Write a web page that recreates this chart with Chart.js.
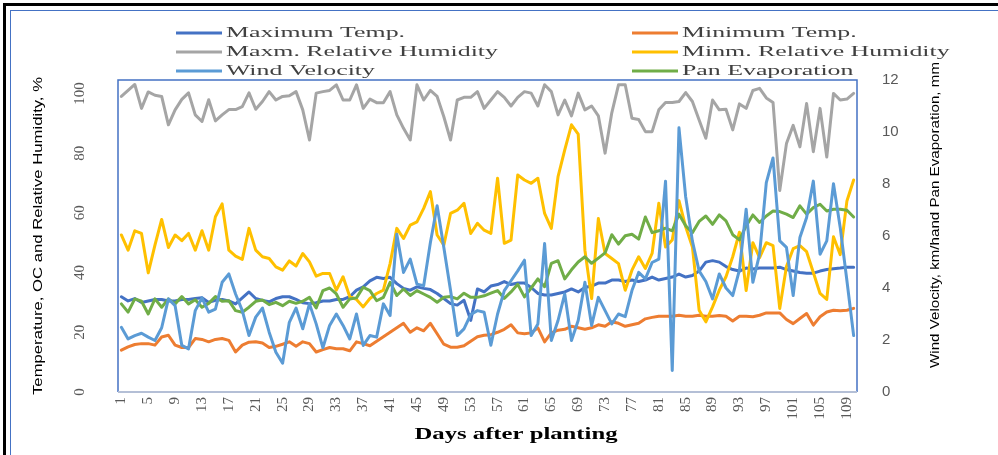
<!DOCTYPE html>
<html>
<head>
<meta charset="utf-8">
<title>Weather parameters during crop period</title>
<script src="https://cdn.jsdelivr.net/npm/chart.js@4.4.1/dist/chart.umd.min.js"></script>
<style>
  html, body { margin: 0; padding: 0; background: #fff; }
  #wrap { position: relative; width: 998px; height: 455px; }
</style>
</head>
<body>
<div id="wrap"><canvas id="myChart" width="998" height="455"></canvas></div>
<script>
// days after planting (categories)
var days = [1, 2, 3, 4, 5, 6, 7, 8, 9, 10, 11, 12, 13, 14, 15, 16, 17, 18, 19, 20,
  21, 22, 23, 24, 25, 26, 27, 28, 29, 30, 31, 32, 33, 34, 35, 36, 37, 38, 39, 40,
  41, 42, 43, 44, 45, 46, 47, 48, 49, 50, 51, 52, 53, 54, 55, 56, 57, 58, 59, 60,
  61, 62, 63, 64, 65, 66, 67, 68, 69, 70, 71, 72, 73, 74, 75, 76, 77, 78, 79, 80,
  81, 82, 83, 84, 85, 86, 87, 88, 89, 90, 91, 92, 93, 94, 95, 96, 97, 98, 99, 100,
  101, 102, 103, 104, 105, 106, 107, 108, 109, 110]
// days that get a tick label
var tickDays = [1, 5, 9, 13, 17, 21, 25, 29, 33, 37, 41, 45, 49, 53, 57, 61, 65, 69, 73, 77, 81, 85, 89, 93, 97, 101, 105, 109]
var leftTicks = [0, 20, 40, 60, 80, 100]

// left axis series (temperature, humidity)
var maxTemp = [31.9, 30.5, 31.3, 30.0, 30.5, 31.0, 31.0, 30.5, 30.5, 31.0,
  31.0, 31.3, 31.6, 30.0, 30.7, 31.0, 30.5, 29.5, 31.5, 33.5,
  31.3, 30.7, 30.2, 31.3, 31.9, 31.9, 31.0, 29.9, 29.6, 29.9,
  30.5, 30.5, 31.0, 31.0, 31.9, 34.1, 35.2, 37.2, 38.4, 38.0,
  38.4, 36.3, 34.7, 34.1, 35.2, 34.7, 34.3, 33.0, 31.3, 29.6,
  29.1, 30.7, 24.0, 34.5, 33.5, 35.5, 36.0, 37.0, 36.0, 36.5,
  36.5, 35.0, 33.0, 32.5, 32.5, 33.0, 33.5, 34.5, 33.5, 35.0,
  35.5, 36.5, 36.5, 37.5, 37.5, 37.0, 37.5, 37.0, 37.5, 38.5,
  37.5, 38.0, 38.5, 39.5, 38.5, 39.0, 40.5, 43.5, 44.0, 43.5,
  42.0, 41.0, 40.5, 41.5, 41.2, 41.5, 41.5, 41.5, 41.8, 41.0,
  40.5, 40.0, 39.8, 39.8, 40.5, 41.0, 41.3, 41.5, 41.8, 41.8]
var minTemp = [14.0, 15.1, 15.9, 16.2, 16.2, 15.7, 18.4, 19.0, 15.7, 14.9,
  14.9, 17.9, 17.6, 16.8, 17.6, 17.9, 17.3, 13.4, 15.7, 16.7,
  16.8, 16.4, 14.9, 15.3, 16.0, 16.8, 15.3, 16.8, 16.2, 13.4,
  14.2, 14.9, 14.5, 14.5, 13.8, 16.8, 16.2, 15.5, 17.0, 18.5,
  20.0, 21.5, 23.0, 20.0, 21.5, 20.5, 23.0, 19.5, 16.0, 15.0,
  15.0, 15.5, 17.0, 18.5, 19.0, 19.2, 20.0, 21.0, 22.5, 19.8,
  19.5, 19.8, 21.5, 16.8, 19.8, 20.7, 21.0, 22.0, 21.5, 21.0,
  21.5, 22.5, 22.0, 23.5, 23.0, 22.0, 22.5, 23.0, 24.5, 25.0,
  25.4, 25.4, 25.4, 25.7, 25.4, 25.4, 25.7, 25.4, 25.4, 25.6,
  25.4, 23.8, 25.4, 25.4, 25.2, 25.7, 26.5, 26.5, 26.5, 24.3,
  22.9, 24.6, 26.3, 22.4, 25.2, 26.8, 27.4, 27.2, 27.4, 28.0]
var maxRH = [99.0, 101.0, 103.0, 95.0, 100.5, 99.4, 99.0, 89.5, 94.5, 98.0,
  100.2, 92.8, 90.6, 97.9, 90.8, 92.8, 94.6, 94.6, 95.6, 100.2,
  94.7, 97.3, 100.6, 97.8, 99.0, 99.2, 100.6, 94.5, 84.4, 100.1,
  100.6, 101.0, 102.9, 97.8, 97.8, 102.9, 95.0, 98.1, 96.9, 96.9,
  100.6, 92.8, 88.3, 84.4, 102.9, 97.8, 101.0, 99.0, 92.2, 84.4,
  97.8, 98.7, 98.7, 100.6, 95.0, 97.8, 100.6, 98.7, 95.8, 98.7,
  100.6, 100.1, 95.8, 102.9, 100.6, 92.8, 97.8, 92.5, 100.1, 94.5,
  95.8, 92.5, 80.0, 93.5, 102.9, 102.9, 91.7, 91.3, 87.2, 87.2,
  94.5, 97.0, 97.0, 97.3, 100.3, 97.3, 91.1, 85.0, 97.8, 94.5,
  94.7, 87.8, 96.5, 95.0, 101.0, 101.7, 98.5, 97.0, 67.5, 83.2,
  89.3, 82.1, 96.6, 80.5, 95.0, 78.7, 100.0, 97.8, 98.1, 100.0]
var minRH = [52.6, 47.5, 54.0, 53.1, 39.9, 49.2, 57.8, 48.4, 52.6, 50.7,
  53.1, 47.5, 54.0, 47.5, 58.7, 63.0, 47.5, 45.5, 44.4, 54.8,
  47.5, 45.3, 44.7, 41.9, 40.8, 43.9, 42.2, 46.4, 43.6, 38.8,
  39.7, 39.7, 34.1, 38.6, 31.9, 31.0, 28.5, 31.3, 33.0, 34.1,
  43.0, 54.8, 51.4, 55.9, 57.0, 61.5, 67.1, 52.6, 49.2, 59.8,
  60.9, 63.2, 53.1, 56.5, 54.2, 53.1, 71.6, 49.8, 50.9, 72.7,
  71.0, 69.9, 71.6, 59.8, 54.8, 72.1, 81.1, 89.5, 86.4, 47.5,
  31.3, 58.1, 46.4, 44.7, 43.0, 34.1, 40.8, 45.3, 41.4, 46.4,
  63.2, 48.6, 50.9, 64.1, 55.3, 48.6, 27.4, 23.5, 28.5, 34.1,
  38.6, 45.3, 53.5, 34.0, 50.0, 45.0, 50.0, 49.0, 28.0, 42.0,
  48.0, 49.0, 47.0, 40.0, 33.0, 31.0, 52.0, 46.0, 64.0, 71.0]

// right axis series (km/h and mm)
var wind = [2.49, 2.04, 2.17, 2.26, 2.11, 1.98, 2.47, 3.58, 3.32, 1.79,
  1.66, 3.13, 3.62, 3.07, 3.19, 4.22, 4.54, 3.77, 3.13, 2.17,
  2.88, 3.23, 2.30, 1.53, 1.11, 2.68, 3.23, 2.43, 3.39, 2.62,
  1.70, 2.56, 3.00, 2.56, 2.04, 3.00, 1.79, 2.17, 2.11, 3.39,
  2.94, 6.07, 4.60, 5.11, 4.15, 4.09, 5.75, 7.16, 5.56, 3.90,
  2.17, 2.43, 2.98, 3.13, 3.07, 1.80, 3.00, 3.90, 4.28, 4.66,
  5.07, 2.17, 2.62, 5.71, 1.98, 2.75, 3.77, 1.98, 2.75, 4.22,
  2.56, 3.64, 3.13, 2.62, 3.00, 2.90, 3.90, 4.60, 4.35, 4.98,
  5.11, 8.11, 0.83, 10.16, 7.50, 5.80, 4.66, 4.25, 3.58, 4.54,
  4.00, 3.71, 4.70, 7.03, 4.22, 5.30, 8.05, 9.00, 5.81, 5.56,
  3.71, 5.94, 6.71, 8.11, 5.30, 5.81, 8.01, 6.33, 4.28, 2.17]
var panEvap = [3.39, 3.07, 3.58, 3.49, 3.00, 3.58, 3.26, 3.58, 3.39, 3.67,
  3.39, 3.55, 3.26, 3.41, 3.67, 3.49, 3.51, 3.13, 3.07, 3.26,
  3.49, 3.54, 3.36, 3.45, 3.32, 3.49, 3.41, 3.49, 3.64, 3.23,
  3.90, 4.00, 3.77, 3.26, 3.58, 3.62, 4.03, 3.90, 3.51, 3.64,
  4.22, 3.71, 3.96, 3.71, 3.90, 3.77, 3.64, 3.45, 3.64, 3.67,
  3.58, 3.80, 3.64, 3.64, 3.70, 3.80, 3.90, 3.60, 3.85, 4.14,
  3.66, 4.00, 4.35, 4.05, 4.95, 5.05, 4.35, 4.70, 5.00, 5.20,
  4.95, 5.15, 5.35, 6.05, 5.69, 6.01, 6.07, 5.88, 6.73, 6.13,
  6.20, 6.30, 6.20, 6.84, 6.39, 6.13, 6.56, 6.77, 6.45, 6.81,
  6.58, 6.05, 5.85, 6.39, 6.81, 6.52, 6.77, 6.96, 6.94, 6.84,
  6.71, 7.16, 6.84, 7.09, 7.22, 6.96, 7.03, 7.03, 6.99, 6.73]

var seriesNames = ['Maximum Temp.', 'Minimum Temp.', 'Maxm. Relative Humidity',
  'Minm. Relative Humidity', 'Wind Velocity', 'Pan Evaporation']
var seriesColors = ['#4472C4', '#ED7D31', '#A5A5A5', '#FFC000', '#5B9BD5', '#70AD47']

window.onload = function () {
  var ctx = document.getElementById('myChart')

  // one line dataset
  function makeSet (i, values, axis, order) {
    return {
      label: seriesNames[i],
      data: values,
      yAxisID: axis,
      borderColor: seriesColors[i],
      backgroundColor: seriesColors[i],
      borderWidth: 3,
      pointRadius: 0,
      tension: 0,
      fill: false,
      borderJoinStyle: 'round',
      borderCapStyle: 'round',
      order: order
    }
  }

  // text squeezed/stretched to a given width (the picture is wider than its fonts)
  function fitText (c, text, x, y, width, angle, font, color, align) {
    c.save()
    c.font = font
    c.fillStyle = color
    c.textBaseline = 'middle'
    c.textAlign = align || 'center'
    c.translate(x, y)
    c.rotate(angle || 0)
    var w = c.measureText(text).width
    c.scale(width / w, 1)
    c.fillText(text, 0, 0)
    c.restore()
  }

  var decorations = {
    id: 'decorations',
    beforeDraw: function (chart) {
      var c = chart.ctx
      c.save()
      // outer frame
      c.fillStyle = '#000'
      c.fillRect(3, 3, 995, 3)
      c.fillRect(3, 3, 3, 452)
      c.strokeStyle = '#4472C4'
      c.lineWidth = 1
      c.strokeRect(10.5, 10.5, 994, 460)
      c.restore()
    },
    beforeDatasetsDraw: function (chart) {
      var c = chart.ctx
      var a = chart.chartArea
      c.save()
      c.strokeStyle = '#4472C4'
      c.lineWidth = 1.5
      c.beginPath()
      c.moveTo(a.left, a.bottom)
      c.lineTo(a.left, a.top)
      c.lineTo(a.right, a.top)
      c.lineTo(a.right, a.bottom)
      c.stroke()
      c.strokeStyle = '#B4BFD6'
      c.lineWidth = 2
      c.beginPath()
      c.moveTo(a.left, a.bottom)
      c.lineTo(a.right, a.bottom)
      c.stroke()
      c.restore()
    },
    afterDraw: function (chart) {
      var c = chart.ctx
      var yl = chart.scales.y

      // left tick labels, rotated
      leftTicks.forEach(function (v) {
        c.save()
        c.font = '15px "Liberation Serif", serif'
        c.fillStyle = '#595959'
        c.textAlign = 'center'
        c.textBaseline = 'middle'
        c.translate(80, yl.getPixelForValue(v))
        c.rotate(-Math.PI / 2)
        c.fillText(String(v), 0, 0)
        c.restore()
      })

      // legend, two columns
      var legendFont = '15px "Liberation Serif", serif'
      c.save()
      c.font = legendFont
      var stretch = 179 / c.measureText('Maximum Temp.').width
      c.restore()
      var cols = [176, 632]
      var rows = [33, 52, 71]
      for (var i = 0; i < seriesNames.length; i++) {
        var lx = cols[i % 2]
        var ly = rows[Math.floor(i / 2)]
        c.save()
        c.strokeStyle = seriesColors[i]
        c.lineWidth = 3
        c.beginPath()
        c.moveTo(lx, ly)
        c.lineTo(lx + 46, ly)
        c.stroke()
        c.font = legendFont
        var w = c.measureText(seriesNames[i]).width * stretch
        c.restore()
        fitText(c, seriesNames[i], lx + 50, ly, w, 0, legendFont, '#404040', 'left')
      }

      // axis titles
      fitText(c, 'Temperature, OC and Relative Humidity, %', 38, 236, 318, -Math.PI / 2,
        '13px "Liberation Sans Narrow", "Liberation Sans", sans-serif', '#000')
      fitText(c, 'Wind Velocity, km/hand Pan Evaporation, mm', 935, 215, 306, -Math.PI / 2,
        '13px "Liberation Sans Narrow", "Liberation Sans", sans-serif', '#000')
      fitText(c, 'Days after planting', 516, 435, 203, 0,
        'bold 17px "Liberation Serif", serif', '#000')
    }
  }

  /* eslint-disable no-unused-vars, no-undef */
  var myChart = new Chart(ctx, {
    type: 'line',
    data: {
      labels: days,
      datasets: [
        makeSet(0, maxTemp, 'y', 6),
        makeSet(1, minTemp, 'y', 5),
        makeSet(2, maxRH, 'y', 4),
        makeSet(3, minRH, 'y', 3),
        makeSet(4, wind, 'y1', 1),
        makeSet(5, panEvap, 'y1', 2)
      ]
    },
    options: {
      responsive: false,
      devicePixelRatio: 1,
      animation: false,
      events: [],
      layout: { padding: { top: 80, left: 0, right: 0, bottom: 0 } },
      plugins: {
        legend: { display: false },
        tooltip: { enabled: false }
      },
      scales: {
        x: {
          type: 'category',
          offset: true,
          grid: { display: false, drawTicks: false },
          border: { display: false },
          ticks: {
            autoSkip: false,
            minRotation: 90,
            maxRotation: 90,
            padding: 5,
            color: '#595959',
            font: { family: '"Liberation Serif", serif', size: 15 },
            callback: function (val) {
              var d = this.getLabelForValue(val)
              return tickDays.indexOf(d) >= 0 ? String(d) : ''
            }
          },
          afterFit: function (scale) { scale.height = 63 }
        },
        y: {
          position: 'left',
          min: 0,
          max: 104.5,
          grid: { display: false, drawTicks: false },
          border: { display: false },
          ticks: { display: false },
          afterFit: function (scale) { scale.width = 118 }
        },
        y1: {
          position: 'right',
          min: 0,
          max: 12,
          grid: { display: false, drawTicks: false },
          border: { display: false },
          ticks: {
            stepSize: 2,
            padding: 25,
            color: '#595959',
            font: { family: '"Liberation Sans", sans-serif', size: 15 }
          },
          afterFit: function (scale) { scale.width = 141 }
        }
      }
    },
    plugins: [decorations]
  })
}
</script>
</body>
</html>
